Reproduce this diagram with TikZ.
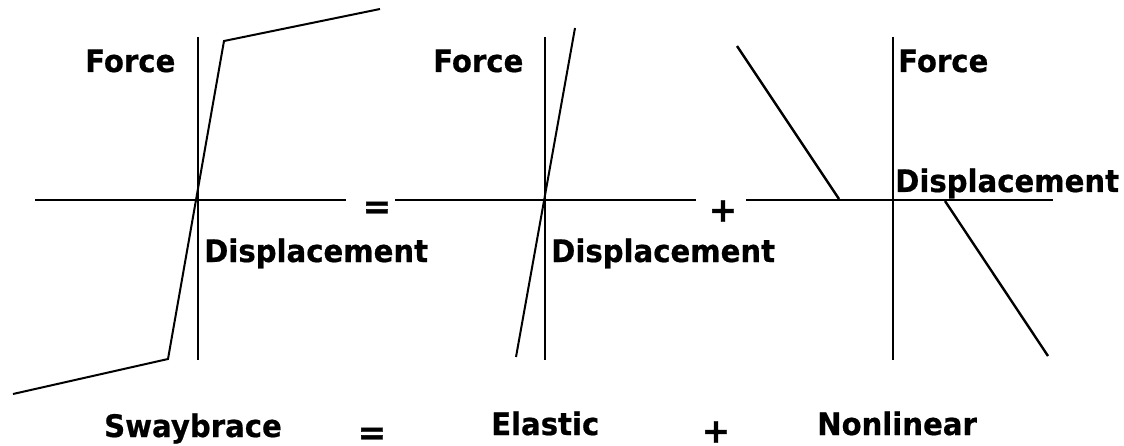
\documentclass[tikz,border=0pt]{standalone}
\usepackage{fontspec}
\setmainfont{DejaVu Sans}
\newfontfamily\lblfont{DejaVu Sans Bold}[FakeStretch=0.94,FakeBold=0.6]
\newfontfamily\opfont{DejaVu Sans Bold}[FakeBold=0.8]
\begin{document}
\begin{tikzpicture}[x=1pt,y=-1pt,
  axis/.style={line width=2pt},
  curve/.style={line width=2pt, line join=miter},
  curvethick/.style={line width=2.4pt},
  lbl/.style={inner sep=0pt, anchor=base west, font=\lblfont\fontsize{31}{31}\selectfont},
  opsym/.style={inner sep=0pt, anchor=center, font=\opfont\fontsize{34}{34}\selectfont}]
\useasboundingbox (0,0) rectangle (1124,446);
\fill[white] (0,0) rectangle (1124,446);
% ---------- panel 1: Swaybrace ----------
\coordinate (a1w) at (35,200);  \coordinate (a1e) at (346,200);
\coordinate (a1n) at (198,37);  \coordinate (a1s) at (198,360);
\draw[axis] (a1w) -- (a1e);
\draw[axis] (a1n) -- (a1s);
\coordinate (s1) at (13,394); \coordinate (s2) at (168,359);
\coordinate (s3) at (224,41); \coordinate (s4) at (380,9);
\draw[curve] (s1) -- (s2) -- (s3) -- (s4);
\node[lbl] (f1) at (85,72) {Force};
\node[lbl] (d1) at (204,262) {Displacement};
\node[opsym] (eq1) at (377,210) {=};
\node[lbl] (t1) at (104,437) {Swaybrace};
\node[opsym] (eq2) at (372,436) {=};
% ---------- panel 2: Elastic ----------
\coordinate (a2w) at (395,200);  \coordinate (a2e) at (696,200);
\coordinate (a2n) at (545,37);   \coordinate (a2s) at (545,360);
\draw[axis] (a2w) -- (a2e);
\draw[axis] (a2n) -- (a2s);
\coordinate (e1) at (516,357); \coordinate (e2) at (575,28);
\draw[curve] (e1) -- (e2);
\node[lbl] (f2) at (433,72) {Force};
\node[lbl] (d2) at (551,262) {Displacement};
\node[opsym] (pl1) at (723,211) {+};
\node[lbl] (t2) at (491,435) {Elastic};
\node[opsym] (pl2) at (716,432) {+};
% ---------- panel 3: Nonlinear ----------
\coordinate (a3w) at (746,200);  \coordinate (a3e) at (1053,200);
\coordinate (a3n) at (893,37);   \coordinate (a3s) at (893,360);
\draw[axis] (a3w) -- (a3e);
\draw[axis] (a3n) -- (a3s);
\coordinate (n1) at (737,46);  \coordinate (n2) at (839,199);
\coordinate (n3) at (945,201); \coordinate (n4) at (1048,356);
\draw[curvethick] (n1) -- (n2);
\draw[curvethick] (n3) -- (n4);
\node[lbl] (f3) at (898,72) {Force};
\node[lbl] (d3) at (895,192) {Displacement};
\node[lbl] (t3) at (817,435) {Nonlinear};
\end{tikzpicture}
\end{document}
